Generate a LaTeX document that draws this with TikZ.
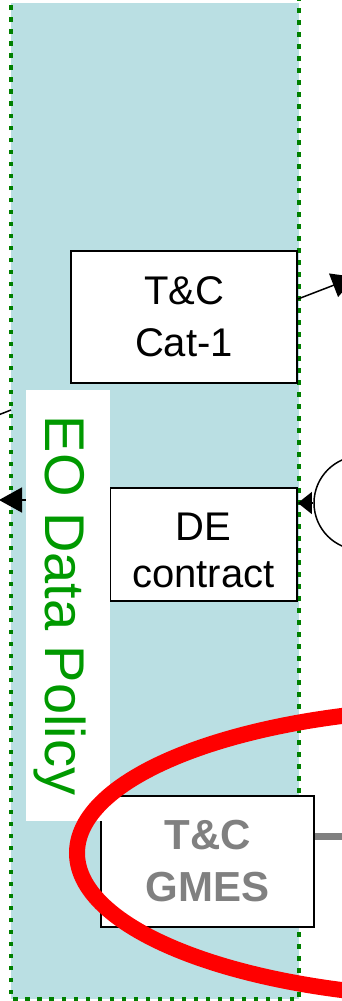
\documentclass[tikz,border=0pt]{standalone}
\usepackage{fontspec}
\setmainfont{Liberation Sans}
\usetikzlibrary{arrows.meta}
\definecolor{panelblue}{RGB}{186,223,227}
\definecolor{dotgreen}{RGB}{0,128,0}
\definecolor{policygreen}{RGB}{0,153,0}
\definecolor{gmesgray}{RGB}{128,128,128}
\tikzset{
  panel/.style={fill=panelblue},
  panelborder/.style={draw=dotgreen, line width=4.5pt, dash pattern=on 4.5pt off 7.5pt},
  box/.style={draw=black, line width=1.8pt, fill=white, inner sep=0pt, align=center},
  catfont/.style={font=\fontsize{40}{52}\selectfont},
  defont/.style={font=\fontsize{40}{47}\selectfont},
  gmesfont/.style={font=\fontsize{42}{52}\selectfont\bfseries, text=gmesgray},
  link/.style={draw=black, line width=1.5pt},
  bigarrow/.style={link, -{Triangle[length=23pt,width=25pt]}},
  smallarrow/.style={link, -{Triangle[length=14pt,width=22pt]}},
  policy/.style={fill=white, rotate=-90, inner sep=0pt, minimum width=431pt, minimum height=84pt,
    text=policygreen, font=\fontsize{56}{60}\selectfont, text height=46pt, text depth=0pt},
  party/.style={circle, draw=black, line width=1.5pt, fill=white, minimum size=94pt, inner sep=0pt},
  greylink/.style={draw=gmesgray, line width=7pt},
  redloop/.style={draw=red, line width=16pt},
}
\begin{document}
\begin{tikzpicture}[x=1pt,y=-1pt]
\useasboundingbox (0,0) rectangle (342,1001);
\clip (0,0) rectangle (342,1001);
% panel
\fill[panel] (11,3) rectangle (299,999);
\draw[panelborder] (299,-4) -- (299,999) -- (11,999) -- (11,-4);
% boxes
\node[box, catfont, minimum width=226pt, minimum height=132pt] (Cat1) at (184,317) {T\&C\\Cat-1};
\node[box, defont, minimum width=187pt, minimum height=113pt] (DE) at (203.5,544.5) {\rule{0pt}{39pt}DE\\contract};
\node[box, gmesfont, minimum width=213pt, minimum height=131pt] (GMES) at (207.5,861.5) {T\&C\\GMES};
\node[party] (circ) at (361,503) {};
% free ends
\coordinate (c1tip) at (355,277);
\coordinate (lefttip) at (-1,500);
\coordinate (outerL) at (-3,415.5);
\coordinate (panelL) at (11,410);
\coordinate (greyend) at (350,836);
% connectors
\draw[bigarrow] ([yshift=18pt]Cat1.east) -- (c1tip);
\draw[bigarrow] ([yshift=44.5pt]DE.west) -- (lefttip);
\draw[smallarrow] (circ.west) -- (DE.east |- circ.west);
\draw[link] (outerL) -- (panelL);
\draw[greylink] ([yshift=25.5pt]GMES.east) -- (greyend);
% policy label
\node[policy] (policy) at (68,605.5) {EO Data Policy};
% red loop
\draw[redloop] (471,853) ellipse [x radius=394, y radius=145];
\end{tikzpicture}
\end{document}
